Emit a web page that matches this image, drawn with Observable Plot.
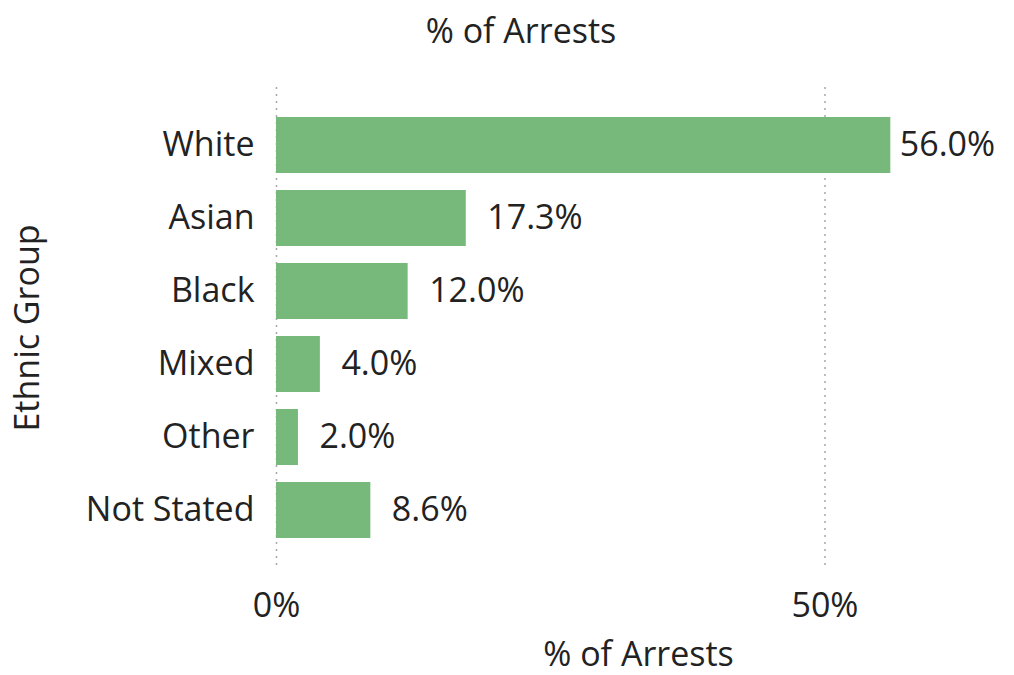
<!DOCTYPE html>
<html>
<head>
<meta charset="utf-8">
<script src="https://cdn.jsdelivr.net/npm/d3@7"></script>
<script src="https://cdn.jsdelivr.net/npm/@observablehq/plot@0.6"></script>
<style>
  body { margin: 0; background: #fff; font-family: "Open Sans", sans-serif; }
  #wrap { position: relative; width: 1014px; height: 675px; }
  #title { position: absolute; left: 0; top: 8px; width: 1014px; text-align: center;
           font-size: 34px; color: #222; transform: translateX(14px); line-height: 44px; }
  #chart { position: absolute; left: 0; top: 60px; }
</style>
</head>
<body>
<div id="wrap">
  <div id="title">% of Arrests</div>
  <div id="chart"></div>
</div>
<script>
const groups = ["White", "Asian", "Black", "Mixed", "Other", "Not Stated"];
const values = [56.0, 17.3, 12.0, 4.0, 2.0, 8.6];
const xTicks = [0, 50];

const data = groups.map((g, i) => ({group: g, value: values[i]}));
const fmt = v => v.toFixed(1) + "%";
const FS = 34;

const chart = Plot.plot({
  width: 1014,
  height: 615,
  marginTop: 27,
  marginBottom: 107,
  marginLeft: 276,
  marginRight: 14,
  style: {fontFamily: "'Open Sans', sans-serif", fontSize: FS + "px", color: "#222", background: "#fff", overflow: "visible"},
  x: {domain: [0, 66]},
  y: {domain: groups, paddingInner: 0.237, paddingOuter: 0.4},
  marks: [
    Plot.gridX(xTicks, {stroke: "#a8a8a8", strokeOpacity: 1, strokeDasharray: "2,5", strokeWidth: 1.5}),
    Plot.barX(data, {x: "value", y: "group", fill: "#76b97a"}),
    Plot.text(data.filter(d => d.group === "White"), {x: "value", y: "group", text: d => fmt(d.value), textAnchor: "start", dx: 9, fill: "#222", fontSize: FS}),
    Plot.text(data.filter(d => d.group !== "White"), {x: "value", y: "group", text: d => fmt(d.value), textAnchor: "start", dx: 21, fill: "#222", fontSize: FS}),
    Plot.axisX(xTicks, {tickSize: 0, tickPadding: 24, fontSize: FS, fill: "#222", tickFormat: d => d + "%", label: "% of Arrests", labelAnchor: "center", labelArrow: "none", labelOffset: 97}),
    Plot.axisY({tickSize: 0, tickPadding: 22, fontSize: FS, fill: "#222", label: "Ethnic Group", labelAnchor: "center", labelArrow: "none", labelOffset: 262})
  ]
});
document.getElementById("chart").appendChild(chart);
</script>
</body>
</html>
